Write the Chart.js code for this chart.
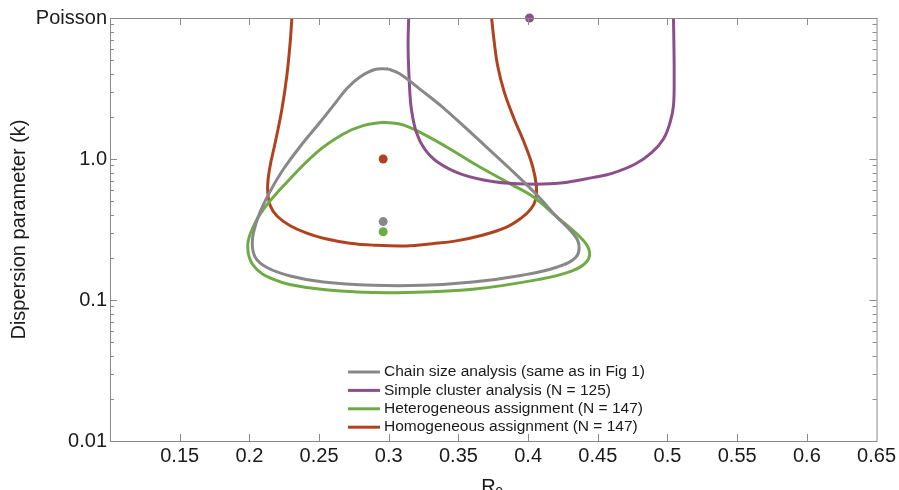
<!DOCTYPE html>
<html>
<head>
<meta charset="utf-8">
<script src="https://cdn.jsdelivr.net/npm/chart.js@4.4.0/dist/chart.umd.min.js"></script>
<style>
  html, body { margin: 0; padding: 0; background: #fff; }
  #wrap { width: 899px; height: 490px; }
</style>
</head>
<body>
<div id="wrap"><canvas id="chart"></canvas></div>
<script>
// series labels + colours (legend order)
const seriesNames = [
    "Chain size analysis (same as in Fig 1)",
    "Simple cluster analysis (N = 125)",
    "Heterogeneous assignment (N = 147)",
    "Homogeneous assignment (N = 147)"
];
const seriesColors = ["#88888b", "#8c4f8c", "#6fab45", "#b0431f"];

// confidence contours (R0, k)
const chainR0 = [0.2995, 0.3079, 0.3221, 0.340, 0.3638, 0.3864, 0.4064, 0.4198, 0.4316, 0.4364, 0.4341, 0.4198, 0.3959, 0.3602, 0.3245, 0.2888, 0.2531, 0.2293, 0.2126, 0.2043, 0.2021, 0.2046, 0.2086, 0.215, 0.2245, 0.2388, 0.2507, 0.2602, 0.2698, 0.2793, 0.290, 0.2995];
const chainK  = [4.36, 4.02, 3.145, 2.27, 1.387, 0.863, 0.555, 0.395, 0.301, 0.249, 0.200, 0.170, 0.150, 0.134, 0.127, 0.127, 0.134, 0.148, 0.170, 0.200, 0.257, 0.345, 0.441, 0.592, 0.849, 1.314, 1.823, 2.39, 3.145, 3.81, 4.31, 4.36];

const clusterR0 = [0.3143, 0.3139, 0.315, 0.3162, 0.3198, 0.3257, 0.3352, 0.3519, 0.3757, 0.3995, 0.4234, 0.4471, 0.4602, 0.4769, 0.4888, 0.4971, 0.5019, 0.5043, 0.5048, 0.5046, 0.5043];
const clusterK  = [10, 6.05, 3.145, 2.27, 1.548, 1.178, 0.947, 0.782, 0.690, 0.664, 0.675, 0.741, 0.791, 0.922, 1.116, 1.387, 1.823, 2.39, 3.91, 6.57, 10];

const heteroR0 = [0.2957, 0.3079, 0.3186, 0.340, 0.3638, 0.3876, 0.4043, 0.4198, 0.4364, 0.4436, 0.4424, 0.4316, 0.4079, 0.3602, 0.3126, 0.2769, 0.2412, 0.2174, 0.2031, 0.1988, 0.2031, 0.2102, 0.2245, 0.2484, 0.2674, 0.2816, 0.2957];
const heteroK  = [1.823, 1.773, 1.615, 1.243, 0.896, 0.664, 0.534, 0.395, 0.285, 0.229, 0.189, 0.1607, 0.140, 0.119, 0.113, 0.114, 0.1225, 0.140, 0.1745, 0.242, 0.336, 0.441, 0.646, 1.116, 1.506, 1.724, 1.823];

const homoR0 = [0.2305, 0.2293, 0.2269, 0.2234, 0.2186, 0.2145, 0.2131, 0.215, 0.220, 0.2293, 0.2412, 0.2531, 0.2721, 0.2888, 0.3126, 0.3314, 0.3484, 0.3671, 0.3841, 0.395, 0.4019, 0.4055, 0.4059, 0.4031, 0.3971, 0.390, 0.3829, 0.3781, 0.3757, 0.3738];
const homoK  = [10, 6.75, 3.91, 2.27, 1.314, 0.849, 0.612, 0.466, 0.393, 0.336, 0.298, 0.2745, 0.253, 0.245, 0.242, 0.251, 0.2626, 0.288, 0.327, 0.381, 0.441, 0.520, 0.646, 0.896, 1.314, 1.924, 2.98, 4.60, 6.75, 10];

// point estimates, same order as seriesNames
const estR0 = [0.296, 0.401, 0.296, 0.296];
const estK  = [0.36, 10, 0.305, 1.0];

// axes
const xTicks = [0.15, 0.2, 0.25, 0.3, 0.35, 0.4, 0.45, 0.5, 0.55, 0.6, 0.65];
const yTicks = [0.01, 0.1, 1, 10];
const yTickLabels = ["0.01", "0.1", "1.0", "Poisson"];

const FONT = "'Liberation Sans', Arial, sans-serif";
const AXIS_GREY = "#8a8a8a";
const TEXT = "#1a1a1a";

function pts(xs, ys) {
    return xs.map((x, i) => ({ x: x, y: ys[i] }));
}

const contours = [
    pts(chainR0, chainK),
    pts(clusterR0, clusterK),
    pts(heteroR0, heteroK),
    pts(homoR0, homoK)
];

const datasets = [];
contours.forEach((d, i) => {
    datasets.push({
        label: seriesNames[i],
        data: d,
        showLine: true,
        borderColor: seriesColors[i],
        borderWidth: 3,
        pointRadius: 0,
        tension: 0.4,
        clip: false
    });
});
estR0.forEach((r, i) => {
    datasets.push({
        label: "est-" + i,
        data: [{ x: r, y: estK[i] }],
        showLine: false,
        pointRadius: 4.5,
        pointBackgroundColor: seriesColors[i],
        pointBorderWidth: 0,
        clip: false
    });
});

// box with inward ticks on all four sides
const boxTicks = {
    id: "boxTicks",
    afterDraw(chart) {
        const { ctx, chartArea: a, scales } = chart;
        const xs = scales.x, ys = scales.y;
        ctx.save();
        ctx.strokeStyle = AXIS_GREY;
        ctx.lineWidth = 1;
        ctx.strokeRect(a.left + 0.5, a.top + 0.5, a.right - a.left, a.bottom - a.top);
        ctx.beginPath();
        xTicks.forEach(v => {
            const px = Math.round(xs.getPixelForValue(v)) + 0.5;
            if (px > a.right - 2) return;
            ctx.moveTo(px, a.bottom); ctx.lineTo(px, a.bottom - 7);
            ctx.moveTo(px, a.top); ctx.lineTo(px, a.top + 7);
        });
        [0.01, 0.1, 1].forEach(dec => {
            for (let m = 1; m <= 9; m++) {
                if (dec === 0.01 && m === 1) continue;
                const py = Math.round(ys.getPixelForValue(dec * m)) + 0.5;
                const len = m === 1 ? 7 : 4;
                ctx.moveTo(a.left, py); ctx.lineTo(a.left + len, py);
                ctx.moveTo(a.right, py); ctx.lineTo(a.right - len, py);
            }
        });
        ctx.stroke();
        ctx.restore();
    }
};

// legend drawn inside the plot, lower middle
const insideLegend = {
    id: "insideLegend",
    afterDraw(chart) {
        const { ctx, chartArea: a } = chart;
        const x0 = a.left + 238, y0 = a.top + 354, step = 18.4;
        ctx.save();
        ctx.font = "15.5px " + FONT;
        ctx.textBaseline = "middle";
        ctx.fillStyle = TEXT;
        seriesNames.forEach((name, i) => {
            const y = y0 + i * step;
            ctx.strokeStyle = seriesColors[i];
            ctx.lineWidth = 3;
            ctx.beginPath();
            ctx.moveTo(x0, y); ctx.lineTo(x0 + 32, y);
            ctx.stroke();
            ctx.fillText(name, x0 + 36, y);
        });
        ctx.restore();
    }
};

// x axis title R0 with subscript
const r0Title = {
    id: "r0Title",
    afterDraw(chart) {
        const { ctx, chartArea: a } = chart;
        const cx = (a.left + a.right) / 2;
        ctx.save();
        ctx.fillStyle = TEXT;
        ctx.textBaseline = "alphabetic";
        ctx.font = "20px " + FONT;
        ctx.fillText("R", cx - 12, a.bottom + 52);
        ctx.font = "14px " + FONT;
        ctx.fillText("0", cx + 2, a.bottom + 56);
        ctx.restore();
    }
};

new Chart(document.getElementById("chart"), {
    type: "scatter",
    data: { datasets: datasets },
    options: {
        responsive: true,
        maintainAspectRatio: false,
        animation: false,
        layout: { padding: { top: 18, right: 21, left: 0, bottom: 0 } },
        plugins: {
            legend: { display: false },
            tooltip: { enabled: false }
        },
        scales: {
            x: {
                type: "linear",
                min: 0.1,
                max: 0.65,
                grid: { display: false, drawTicks: false },
                border: { display: false },
                afterBuildTicks: s => { s.ticks = xTicks.map(v => ({ value: v })); },
                afterFit: s => { s.height = 49; },
                ticks: {
                    padding: 3,
                    maxRotation: 0,
                    autoSkip: false,
                    color: TEXT,
                    font: { size: 20, family: FONT },
                    callback: v => String(Number(v.toFixed(2)))
                }
            },
            y: {
                type: "logarithmic",
                min: 0.01,
                max: 10,
                grid: { display: false, drawTicks: false },
                border: { display: false },
                afterBuildTicks: s => { s.ticks = yTicks.map(v => ({ value: v })); },
                afterFit: s => { s.width = 110; },
                ticks: {
                    padding: 3,
                    autoSkip: false,
                    color: TEXT,
                    font: { size: 20, family: FONT },
                    callback: v => yTickLabels[yTicks.indexOf(v)] ?? ""
                },
                title: {
                    display: true,
                    text: "Dispersion parameter (k)",
                    color: TEXT,
                    font: { size: 20, family: FONT },
                    padding: { top: 7, bottom: 0 }
                }
            }
        }
    },
    plugins: [boxTicks, insideLegend, r0Title]
});
</script>
</body>
</html>
